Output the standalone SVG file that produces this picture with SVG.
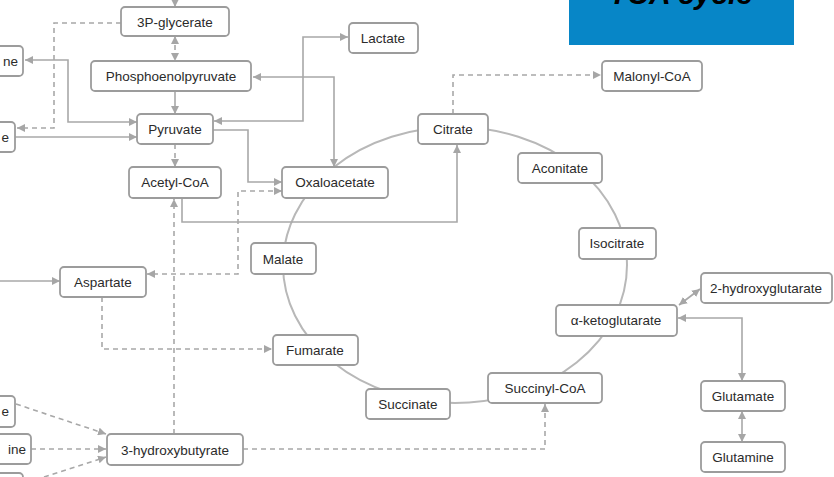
<svg xmlns="http://www.w3.org/2000/svg" width="834" height="477" viewBox="0 0 834 477">
<defs>
<marker id="arr" viewBox="0 0 8 8" refX="8" refY="4" markerWidth="8" markerHeight="8" markerUnits="userSpaceOnUse" orient="auto-start-reverse">
<path d="M0,0 L8,4 L0,8 z" fill="#a6a6a6"/>
</marker>
</defs>
<style>
.box{fill:#fff;stroke:#9c9c9c;stroke-width:1.8}
.lbl{font-family:"Liberation Sans",Arial,sans-serif;font-size:13.5px;fill:#2b2b2b;text-anchor:middle;dominant-baseline:central}
.lblR{font-family:"Liberation Sans",Arial,sans-serif;font-size:13.5px;fill:#2b2b2b;text-anchor:end;dominant-baseline:central}
.ln{fill:none;stroke:#a8a8a8;stroke-width:1.6}
.dash{fill:none;stroke:#a8a8a8;stroke-width:1.6;stroke-dasharray:5,4}
.end{marker-end:url(#arr)}
.both{marker-start:url(#arr);marker-end:url(#arr)}
</style>
<rect x="0" y="0" width="834" height="477" fill="#fff"/>

<g id="title">
<rect x="569" y="0" width="225" height="45" fill="#0786C7"/>
<text x="681" y="4" font-family="Liberation Sans, Arial, sans-serif" font-size="30" font-weight="bold" font-style="italic" fill="#000" text-anchor="middle">TCA cycle</text>
</g>

<g id="cycle">
<ellipse cx="455" cy="265" rx="172" ry="138" fill="none" stroke="#b8b8b8" stroke-width="2"/>
</g>

<g id="connectors">
<path class="ln end" d="M175,-4 V7"/>
<path class="dash both" d="M175,36 V61"/>
<path class="ln end" d="M175,91 V114"/>
<path class="dash end" d="M175,144 V167"/>
<path class="dash end" d="M121,23 H54 V128 H17"/>
<path class="ln both" d="M25,60 H68 V122 H137"/>
<path class="ln end" d="M15,137 H137"/>
<path class="ln both" d="M253,77 H334 V167"/>
<path class="ln both" d="M348,37 H303 V121 H214"/>
<path class="ln end" d="M213,130 H248 V182 H282"/>
<path class="dash both" d="M282,191 H238 V274 H147"/>
<path class="ln end" d="M182,198 V222 H457 V145"/>
<path class="dash end" d="M453,114 V75 H601"/>
<path class="ln end" d="M0,281 H60"/>
<path class="dash end" d="M102,297 V349 H272"/>
<path class="dash end" d="M174,434 V199"/>
<path class="dash end" d="M243,449 H545 V404"/>
<path class="dash end" d="M16,404 L106,434"/>
<path class="dash end" d="M31,449 H106"/>
<path class="dash end" d="M44,477 L106,457"/>
<path class="ln both" d="M679,305 L700,289"/>
<path class="ln both" d="M678,318 H742 V381"/>
<path class="ln both" d="M742,411 V442"/>
</g>

<g id="n-left1"><rect class="box" x="-20" y="46" width="43" height="30" rx="4"/><text class="lblR" x="18" y="61">ne</text></g>
<g id="n-left2"><rect class="box" x="-20" y="122" width="35" height="30" rx="4"/><text class="lblR" x="9" y="137">e</text></g>
<g id="n-left3"><rect class="box" x="-20" y="396" width="35" height="31" rx="4"/><text class="lblR" x="9" y="411">e</text></g>
<g id="n-left4"><rect class="box" x="-20" y="434" width="51" height="30" rx="4"/><text class="lblR" x="26" y="449">ine</text></g>
<g id="n-left5"><rect class="box" x="-20" y="473" width="43" height="20" rx="4"/></g>

<g id="n-3pg"><rect class="box" x="121" y="7" width="108" height="29" rx="4"/><text class="lbl" x="175" y="22">3P-glycerate</text></g>
<g id="n-pep"><rect class="box" x="91" y="61" width="160" height="30" rx="4"/><text class="lbl" x="171" y="76">Phosphoenolpyruvate</text></g>
<g id="n-pyr"><rect class="box" x="137" y="114" width="76" height="30" rx="4"/><text class="lbl" x="175" y="129">Pyruvate</text></g>
<g id="n-lac"><rect class="box" x="349" y="23" width="69" height="30" rx="4"/><text class="lbl" x="383" y="38">Lactate</text></g>
<g id="n-acoa"><rect class="box" x="129" y="167" width="92" height="31" rx="4"/><text class="lbl" x="175" y="182">Acetyl-CoA</text></g>
<g id="n-oaa"><rect class="box" x="282" y="167" width="106" height="31" rx="4"/><text class="lbl" x="335" y="182">Oxaloacetate</text></g>
<g id="n-cit"><rect class="box" x="418" y="114" width="70" height="30" rx="4"/><text class="lbl" x="453" y="129">Citrate</text></g>
<g id="n-mal-coa"><rect class="box" x="602" y="61" width="100" height="30" rx="4"/><text class="lbl" x="652" y="76">Malonyl-CoA</text></g>
<g id="n-aco"><rect class="box" x="518" y="153" width="84" height="30" rx="4"/><text class="lbl" x="560" y="168">Aconitate</text></g>
<g id="n-iso"><rect class="box" x="579" y="228" width="77" height="31" rx="4"/><text class="lbl" x="617" y="243">Isocitrate</text></g>
<g id="n-2hg"><rect class="box" x="701" y="273" width="131" height="30" rx="4"/><text class="lbl" x="766" y="288">2-hydroxyglutarate</text></g>
<g id="n-akg"><rect class="box" x="556" y="305" width="121" height="31" rx="4"/><text class="lbl" x="616" y="320">α-ketoglutarate</text></g>
<g id="n-glu"><rect class="box" x="701" y="381" width="84" height="30" rx="4"/><text class="lbl" x="743" y="396">Glutamate</text></g>
<g id="n-gln"><rect class="box" x="701" y="442" width="84" height="30" rx="4"/><text class="lbl" x="743" y="457">Glutamine</text></g>
<g id="n-scoa"><rect class="box" x="488" y="373" width="114" height="30" rx="4"/><text class="lbl" x="545" y="388">Succinyl-CoA</text></g>
<g id="n-suc"><rect class="box" x="366" y="389" width="84" height="30" rx="4"/><text class="lbl" x="408" y="404">Succinate</text></g>
<g id="n-fum"><rect class="box" x="273" y="335" width="85" height="30" rx="4"/><text class="lbl" x="315" y="350">Fumarate</text></g>
<g id="n-mal"><rect class="box" x="251" y="243" width="65" height="31" rx="4"/><text class="lbl" x="283" y="259">Malate</text></g>
<g id="n-asp"><rect class="box" x="60" y="267" width="86" height="30" rx="4"/><text class="lbl" x="103" y="282">Aspartate</text></g>
<g id="n-3hb"><rect class="box" x="107" y="434" width="136" height="31" rx="4"/><text class="lbl" x="175" y="450">3-hydroxybutyrate</text></g>
</svg>
